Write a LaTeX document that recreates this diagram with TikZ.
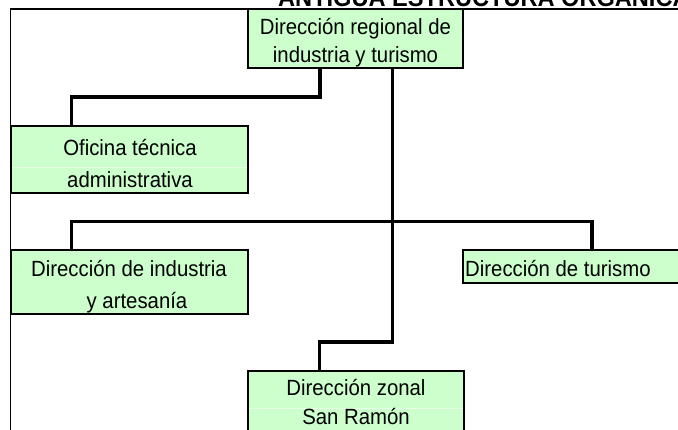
\documentclass[tikz,border=0pt]{standalone}
\usepackage{fontspec}
\setmainfont[FakeStretch=0.925]{Liberation Sans}
\definecolor{cellgreen}{HTML}{CCFFCC}
\definecolor{gridgreen}{HTML}{E4FFE4}
\begin{document}
\begin{tikzpicture}[x=1pt,y=-1pt,
  box/.style={draw=black,line width=1.3pt,fill=cellgreen,rectangle,inner sep=0pt,outer sep=0pt},
  lbl/.style={anchor=base,inner sep=0pt,font=\fontsize{22}{22}\selectfont},
  ttl/.style={anchor=base west,inner sep=0pt,font=\fontsize{25.5}{25.5}\selectfont\bfseries},
  conn/.style={line width=3.3pt,line join=miter},
  frame/.style={line width=1.2pt},
  grid/.style={draw=gridgreen,line width=0.8pt}]
\useasboundingbox (0,0) rectangle (678,430);
\clip (0,0) rectangle (678,430);
\fill[white] (0,0) rectangle (678,430);
% title (cut by the page top)
\node[ttl] (title) at (278,7) {ANTIGUA ESTRUCTURA ORGANICA};
% frame
\draw[frame] (10.5,430) -- (10.5,9) -- (678,9);
% boxes
\node[box,minimum width=215pt,minimum height=59pt] (top) at (355.5,38.5) {};
\node[box,minimum width=237pt,minimum height=67pt] (ofi) at (129.5,159.5) {};
\node[box,minimum width=237pt,minimum height=64pt] (ind) at (129.5,282) {};
\node[box,minimum width=237pt,minimum height=33pt] (tur) at (581.5,266.5) {};
\node[box,minimum width=216pt,minimum height=79pt] (san) at (356,410.5) {};
% faint cell grid lines
\draw[grid] (12,167) -- (247,167);
\draw[grid] (249,408) -- (463,408);
% texts
\node[lbl] (t1) at (355.5,35) {Dirección regional de};
\node[lbl] (t2) at (355.5,63) {industria y turismo};
\node[lbl] (o1) at (130,156) {Oficina técnica};
\node[lbl] (o2) at (130,188) {administrativa};
\node[lbl] (i1) at (129,277) {Dirección de industria};
\node[lbl] (i2) at (137,309) {y artesanía};
\node[lbl,anchor=base west] (u1) at (465,277) {Dirección de turismo};
\node[lbl] (s1) at (356,396) {Dirección zonal};
\node[lbl] (s2) at (356,424.5) {San Ramón};
% connector junctions
\coordinate (j1) at (320,97);
\coordinate (j2) at (71.5,97);
\coordinate (b1) at (71.5,221.5);
\coordinate (b2) at (592,221.5);
\coordinate (m1) at (392.5,342);
\coordinate (m2) at (319.5,342);
% connectors
\draw[conn] (top.south -| j1) -- (j1) -- (j2) -- (ofi.north -| j2);
\draw[conn] (ind.north -| b1) -- (b1) -- (b2) -- (tur.north -| b2);
\draw[conn] (top.south -| m1) -- (m1) -- (m2) -- (san.north -| m2);
\end{tikzpicture}
\end{document}
